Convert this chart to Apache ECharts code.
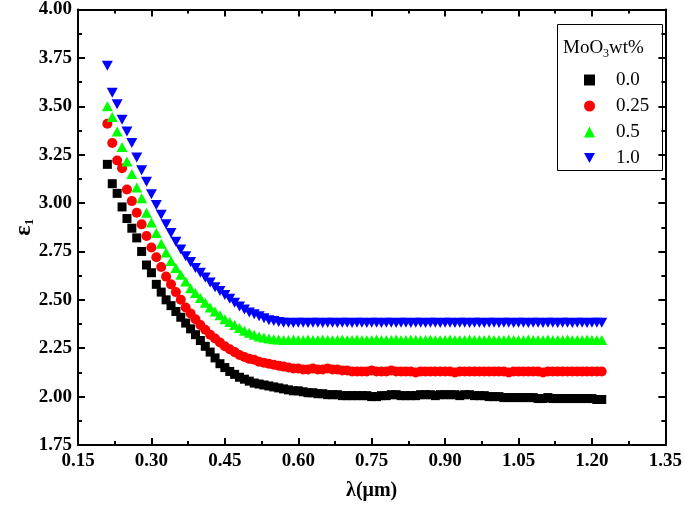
<!DOCTYPE html>
<html>
<head>
<meta charset="utf-8">
<script src="https://cdn.jsdelivr.net/npm/echarts@6/dist/echarts.min.js"></script>
<style>html,body{margin:0;padding:0;background:#fff}#c{width:685px;height:514px}</style>
</head>
<body>
<div id="c"></div>
<script>
var wavelength = [0.21,0.22,0.23,0.24,0.25,0.26,0.27,0.28,0.29,0.30,0.31,0.32,0.33,0.34,0.35,0.36,0.37,0.38,0.39,0.40,
0.41,0.42,0.43,0.44,0.45,0.46,0.47,0.48,0.49,0.50,0.51,0.52,0.53,0.54,0.55,0.56,0.57,0.58,0.59,0.60,
0.61,0.62,0.63,0.64,0.65,0.66,0.67,0.68,0.69,0.70,0.71,0.72,0.73,0.74,0.75,0.76,0.77,0.78,0.79,0.80,
0.81,0.82,0.83,0.84,0.85,0.86,0.87,0.88,0.89,0.90,0.91,0.92,0.93,0.94,0.95,0.96,0.97,0.98,0.99,1.00,
1.01,1.02,1.03,1.04,1.05,1.06,1.07,1.08,1.09,1.10,1.11,1.12,1.13,1.14,1.15,1.16,1.17,1.18,1.19,1.20,
1.21,1.22];

var eps_00 = [3.20,3.10,3.05,2.98,2.92,2.87,2.82,2.75,2.68,2.64,2.58,2.54,2.50,2.47,2.44,2.41,2.38,2.35,2.32,2.29,
2.26,2.23,2.20,2.17,2.15,2.13,2.115,2.10,2.09,2.08,2.07,2.065,2.06,2.055,2.05,2.045,2.04,2.035,2.03,2.03,
2.025,2.02,2.02,2.015,2.015,2.01,2.01,2.01,2.005,2.005,2.005,2.005,2.005,2.005,2.00,2.00,2.005,2.005,2.01,2.01,
2.005,2.005,2.005,2.005,2.01,2.01,2.01,2.005,2.01,2.01,2.01,2.01,2.005,2.01,2.01,2.005,2.005,2.005,2.00,2.00,
2.00,1.995,1.995,1.995,1.995,1.995,1.995,1.995,1.99,1.99,1.995,1.99,1.99,1.99,1.99,1.99,1.99,1.99,1.99,1.99,
1.985,1.985];

var eps_025 = [3.41,3.31,3.22,3.18,3.07,3.01,2.95,2.89,2.83,2.77,2.72,2.67,2.62,2.58,2.54,2.50,2.46,2.43,2.40,2.37,
2.345,2.32,2.30,2.28,2.26,2.245,2.23,2.215,2.205,2.195,2.19,2.18,2.175,2.17,2.165,2.16,2.155,2.15,2.145,2.145,
2.14,2.14,2.145,2.14,2.14,2.145,2.14,2.14,2.135,2.135,2.13,2.13,2.13,2.13,2.135,2.13,2.13,2.13,2.135,2.13,
2.13,2.13,2.13,2.125,2.13,2.13,2.13,2.13,2.13,2.13,2.13,2.125,2.13,2.13,2.13,2.13,2.13,2.13,2.13,2.13,
2.13,2.13,2.125,2.13,2.13,2.13,2.13,2.13,2.13,2.125,2.13,2.13,2.13,2.13,2.13,2.13,2.13,2.13,2.13,2.13,
2.13,2.13];

var eps_05 = [3.50,3.445,3.37,3.29,3.215,3.15,3.08,3.025,2.95,2.90,2.845,2.79,2.745,2.70,2.665,2.63,2.595,2.56,2.535,2.51,
2.485,2.46,2.44,2.42,2.40,2.385,2.37,2.355,2.34,2.33,2.32,2.31,2.305,2.30,2.297,2.295,2.293,2.293,2.295,2.293,
2.293,2.295,2.293,2.293,2.295,2.293,2.293,2.293,2.295,2.293,2.293,2.295,2.293,2.293,2.293,2.295,2.293,2.293,2.293,2.295,
2.293,2.293,2.295,2.293,2.293,2.293,2.295,2.293,2.293,2.293,2.295,2.293,2.293,2.293,2.295,2.293,2.293,2.293,2.295,2.293,
2.293,2.293,2.295,2.293,2.293,2.293,2.295,2.293,2.293,2.293,2.295,2.293,2.293,2.293,2.295,2.293,2.293,2.293,2.295,2.293,
2.293,2.293];

var eps_10 = [3.71,3.57,3.51,3.43,3.37,3.31,3.235,3.17,3.11,3.045,2.99,2.94,2.89,2.845,2.80,2.76,2.725,2.695,2.665,2.64,
2.615,2.59,2.565,2.545,2.525,2.505,2.485,2.465,2.45,2.435,2.425,2.415,2.405,2.395,2.39,2.385,2.382,2.382,2.38,2.382,
2.382,2.38,2.382,2.382,2.38,2.382,2.382,2.38,2.382,2.382,2.38,2.382,2.382,2.38,2.382,2.382,2.38,2.382,2.382,2.38,
2.382,2.382,2.38,2.382,2.382,2.38,2.382,2.382,2.38,2.382,2.382,2.38,2.382,2.382,2.38,2.382,2.382,2.38,2.382,2.382,
2.38,2.382,2.382,2.38,2.382,2.382,2.38,2.382,2.382,2.38,2.382,2.382,2.38,2.382,2.382,2.38,2.382,2.382,2.38,2.382,
2.382,2.382];

var seriesNames = ['0.0', '0.25', '0.5', '1.0'];
var xTicks = { min: 0.15, max: 1.35, interval: 0.15 };
var yTicks = { min: 1.75, max: 4.00, interval: 0.25 };

function pairs(ys) { return wavelength.map(function (x, i) { return [x, ys[i]]; }); }

var FONT = '"Liberation Serif", "Times New Roman", serif';
var axisCommon = {
  axisLine: { show: true, onZero: false, lineStyle: { color: '#000', width: 2 } },
  axisTick: { show: true, inside: true, length: 7, lineStyle: { color: '#000', width: 2 } },
  minorTick: { show: true, splitNumber: 2, length: 4, lineStyle: { color: '#000', width: 2 } },
  splitLine: { show: false }
};
function merge(a, b) { var o = {}; for (var k in a) o[k] = a[k]; for (var k2 in b) o[k2] = b[k2]; return o; }

var chart = echarts.init(document.getElementById('c'), null, { renderer: 'canvas' });
var downTri = 'path://M0,0 L10,0 L5,9 Z';
chart.setOption({
  backgroundColor: '#fff',
  animation: false,
  grid: { left: 78, right: 18, top: 7, bottom: 69, containLabel: false },
  xAxis: [
    merge(axisCommon, {
      type: 'value', position: 'bottom', min: xTicks.min, max: xTicks.max, interval: xTicks.interval,
      name: 'λ(μm)', nameLocation: 'middle', nameGap: 36,
      nameTextStyle: { fontFamily: FONT, fontWeight: 'bold', fontSize: 20, color: '#000' },
      axisLabel: { fontFamily: FONT, fontWeight: 'bold', fontSize: 19, color: '#000', margin: 7,
        formatter: function (v) { return v.toFixed(2); } }
    }),
    merge(axisCommon, {
      type: 'value', position: 'top', min: xTicks.min, max: xTicks.max, interval: xTicks.interval,
      axisLabel: { show: false }
    })
  ],
  yAxis: [
    merge(axisCommon, {
      type: 'value', position: 'left', min: yTicks.min, max: yTicks.max, interval: yTicks.interval,
      name: '{a|ε}{b|1}', nameLocation: 'middle', nameGap: 42, nameRotate: 90, nameMoveOverlap: false,
      nameTextStyle: { fontFamily: FONT, fontWeight: 'bold', color: '#000',
        rich: { a: { fontFamily: FONT, fontWeight: 'bold', fontSize: 24, color: '#000' },
                b: { fontFamily: FONT, fontSize: 13, color: '#000', verticalAlign: 'bottom', padding: [12, 0, 0, 0] } } },
      axisLabel: { fontFamily: FONT, fontWeight: 'bold', fontSize: 19, color: '#000', margin: 6,
        formatter: function (v) { return v.toFixed(2); } }
    }),
    merge(axisCommon, {
      type: 'value', position: 'right', min: yTicks.min, max: yTicks.max, interval: yTicks.interval,
      axisLabel: { show: false }
    })
  ],
  legend: {
    orient: 'vertical', left: 579, top: 65, itemWidth: 11, itemHeight: 11, itemGap: 6,
    textStyle: { fontFamily: FONT, fontSize: 19, color: '#000', lineHeight: 20, padding: [0, 0, 0, 16] },
    data: [
      { name: seriesNames[0], icon: 'rect', itemStyle: { color: '#000' } },
      { name: seriesNames[1], icon: 'circle' },
      { name: seriesNames[2], icon: 'triangle' },
      { name: seriesNames[3], icon: downTri }
    ]
  },
  graphic: [
    { type: 'rect', left: 555, top: 22, shape: { width: 105, height: 146 },
      style: { fill: 'none', stroke: '#000', lineWidth: 1 }, z: 10 },
    { type: 'text', left: 563, top: 39, z: 11,
      style: { text: '{a|MoO}{b|3}{a|wt%}', fill: '#000',
        rich: { a: { fontFamily: FONT, fontSize: 19, fill: '#000' },
                b: { fontFamily: FONT, fontSize: 12, fill: '#000', verticalAlign: 'bottom', padding: [10, 0, 0, 0] } } } }
  ],
  series: [
    { name: seriesNames[0], type: 'scatter', symbol: 'rect', symbolSize: 9, itemStyle: { color: '#000000', opacity: 1 }, data: pairs(eps_00) },
    { name: seriesNames[1], type: 'scatter', symbol: 'circle', symbolSize: 10, itemStyle: { color: '#ff0000', opacity: 1 }, data: pairs(eps_025) },
    { name: seriesNames[2], type: 'scatter', symbol: 'triangle', symbolSize: [11, 10], itemStyle: { color: '#00ff00', opacity: 1 }, data: pairs(eps_05) },
    { name: seriesNames[3], type: 'scatter', symbol: downTri, symbolSize: [11, 10], itemStyle: { color: '#0000ff', opacity: 1 }, data: pairs(eps_10) }
  ]
});
</script>
</body>
</html>
